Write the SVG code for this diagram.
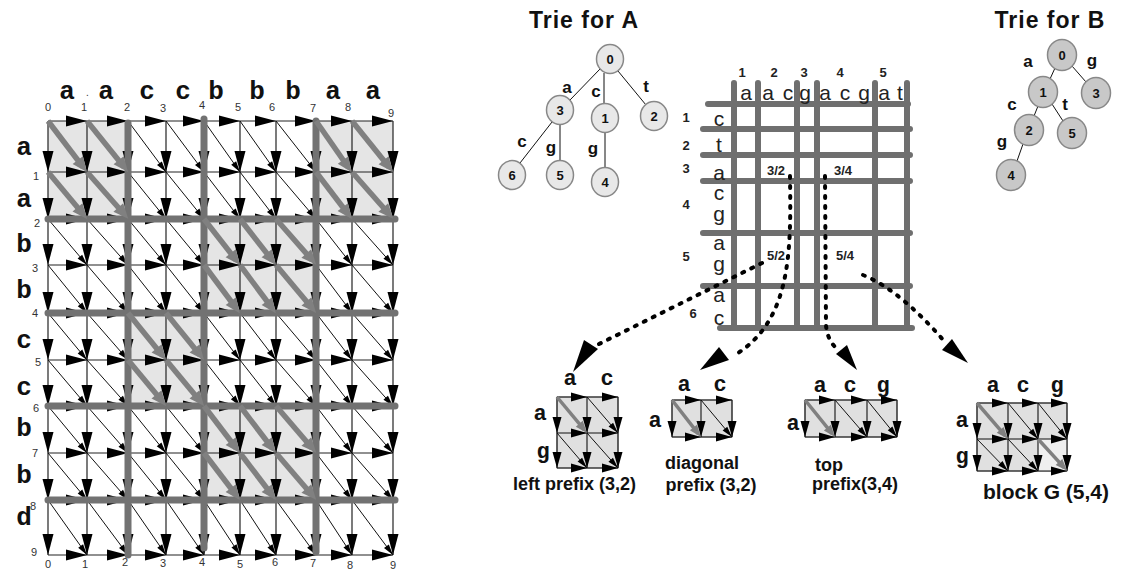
<svg xmlns="http://www.w3.org/2000/svg" width="1125" height="569" viewBox="0 0 1125 569">
<style>
.ln{fill:none;stroke:#222;stroke-width:1.2;marker-mid:url(#ah);marker-end:url(#ah)}
.dg{fill:none;stroke:#111;stroke-width:1;marker-end:url(#ad)}
.gd{fill:none;stroke:#808080;stroke-width:5.5;marker-end:url(#ag)}
.thk{fill:none;stroke:#727272;stroke-width:7;stroke-linecap:round}
.sh{fill:#e5e5e5}
.lt{font-family:"Liberation Mono","DejaVu Sans Mono",monospace;font-weight:bold;font-size:26px;fill:#111;text-anchor:middle}
.sl{font-family:"Liberation Mono","DejaVu Sans Mono",monospace;font-weight:bold;font-size:22px;fill:#111;text-anchor:middle}
.nm{font-family:"Liberation Sans",Arial,sans-serif;font-size:11px;fill:#333;text-anchor:middle}
.mx{fill:none;stroke:#6f6f6f;stroke-width:6;stroke-linecap:round}
.ms{font-family:"Liberation Sans",Arial,sans-serif;font-size:21px;fill:#222;text-anchor:middle}
.mn{font-family:"Liberation Sans",Arial,sans-serif;font-weight:bold;font-size:13px;fill:#222;text-anchor:middle}
.ttl{font-family:"Liberation Sans",Arial,sans-serif;font-weight:bold;font-size:23px;letter-spacing:1px;fill:#111;text-anchor:middle}
.na{fill:#e8e8e8;stroke:#888;stroke-width:1.5}
.nb{fill:#c8c8c8;stroke:#888;stroke-width:1.5}
.nl{font-family:"Liberation Sans",Arial,sans-serif;font-weight:bold;font-size:13px;fill:#111;text-anchor:middle}
.el{font-family:"Liberation Sans",Arial,sans-serif;font-weight:bold;font-size:17px;fill:#111;text-anchor:middle}
.te{fill:none;stroke:#111;stroke-width:1}
.cap{font-family:"Liberation Sans",Arial,sans-serif;font-weight:bold;font-size:18px;fill:#111}
.capg{font-family:"Liberation Sans",Arial,sans-serif;font-weight:bold;font-size:21px;fill:#111}
.cell{fill:#e0e0e0;stroke:#888;stroke-width:1}
.sa{fill:none;stroke:#111;stroke-width:1.1;marker-mid:url(#am);marker-end:url(#am)}
.sd{fill:none;stroke:#111;stroke-width:1;marker-end:url(#ad)}
.sg{fill:none;stroke:#808080;stroke-width:3.5;marker-end:url(#ags)}
.dot{fill:none;stroke:#000;stroke-width:4;stroke-dasharray:2 8;stroke-linecap:round}
</style>
<defs>
<marker id="ah" viewBox="-22 -6 23 12" refX="0" refY="0" markerWidth="23" markerHeight="12" markerUnits="userSpaceOnUse" orient="auto"><path d="M0,0 L-21,-5.5 L-21,5.5 Z" fill="#000"/></marker>
<marker id="am" viewBox="-17 -5 18 10" refX="0" refY="0" markerWidth="18" markerHeight="10" markerUnits="userSpaceOnUse" orient="auto"><path d="M0,0 L-16,-4.5 L-16,4.5 Z" fill="#000"/></marker>
<marker id="ad" viewBox="-12 -4 13 8" refX="0" refY="0" markerWidth="13" markerHeight="8" markerUnits="userSpaceOnUse" orient="auto"><path d="M0,0 L-11,-3 L-11,3 Z" fill="#000"/></marker>
<marker id="ag" viewBox="-10 -7 18 14" refX="0" refY="0" markerWidth="18" markerHeight="14" markerUnits="userSpaceOnUse" orient="auto"><path d="M6.4,0 L-8.6,-6.5 L-8.6,6.5 Z" fill="#808080"/></marker>
<marker id="ags" viewBox="-9 -5 14 10" refX="0" refY="0" markerWidth="14" markerHeight="10" markerUnits="userSpaceOnUse" orient="auto"><path d="M4,0 L-8,-4.5 L-8,4.5 Z" fill="#808080"/></marker>
</defs>
<rect width="1125" height="569" fill="#fff"/>

<!-- Left alignment grid -->
<g id="grid">
<rect class="sh" x="48" y="121" width="80" height="98"/>
<rect class="sh" x="316" y="121" width="77" height="98"/>
<rect class="sh" x="204" y="219" width="112" height="94"/>
<rect class="sh" x="128" y="313" width="76" height="93"/>
<rect class="sh" x="204" y="406" width="112" height="94"/>
<g id="grid-rows">
<path class="ln" d="M48,121 H87 H128 H166 H204 H240 H276 H316 H352 H393"/>
<path class="ln" d="M48,172 H87 H128 H166 H204 H240 H276 H316 H352 H393"/>
<path class="ln" d="M48,219 H87 H128 H166 H204 H240 H276 H316 H352 H393"/>
<path class="ln" d="M48,265 H87 H128 H166 H204 H240 H276 H316 H352 H393"/>
<path class="ln" d="M48,313 H87 H128 H166 H204 H240 H276 H316 H352 H393"/>
<path class="ln" d="M48,360 H87 H128 H166 H204 H240 H276 H316 H352 H393"/>
<path class="ln" d="M48,406 H87 H128 H166 H204 H240 H276 H316 H352 H393"/>
<path class="ln" d="M48,453 H87 H128 H166 H204 H240 H276 H316 H352 H393"/>
<path class="ln" d="M48,500 H87 H128 H166 H204 H240 H276 H316 H352 H393"/>
<path class="ln" d="M48,555 H87 H128 H166 H204 H240 H276 H316 H352 H393"/>
</g>
<g id="grid-cols">
<path class="ln" d="M48,121 V172 V219 V265 V313 V360 V406 V453 V500 V555"/>
<path class="ln" d="M87,121 V172 V219 V265 V313 V360 V406 V453 V500 V555"/>
<path class="ln" d="M128,121 V172 V219 V265 V313 V360 V406 V453 V500 V555"/>
<path class="ln" d="M166,121 V172 V219 V265 V313 V360 V406 V453 V500 V555"/>
<path class="ln" d="M204,121 V172 V219 V265 V313 V360 V406 V453 V500 V555"/>
<path class="ln" d="M240,121 V172 V219 V265 V313 V360 V406 V453 V500 V555"/>
<path class="ln" d="M276,121 V172 V219 V265 V313 V360 V406 V453 V500 V555"/>
<path class="ln" d="M316,121 V172 V219 V265 V313 V360 V406 V453 V500 V555"/>
<path class="ln" d="M352,121 V172 V219 V265 V313 V360 V406 V453 V500 V555"/>
<path class="ln" d="M393,121 V172 V219 V265 V313 V360 V406 V453 V500 V555"/>
</g>
<g id="grid-diagonals">
<path class="dg" d="M128,121 L166,172"/><path class="dg" d="M166,121 L204,172"/><path class="dg" d="M204,121 L240,172"/><path class="dg" d="M240,121 L276,172"/><path class="dg" d="M276,121 L316,172"/>
<path class="dg" d="M128,172 L166,219"/><path class="dg" d="M166,172 L204,219"/><path class="dg" d="M204,172 L240,219"/><path class="dg" d="M240,172 L276,219"/><path class="dg" d="M276,172 L316,219"/>
<path class="dg" d="M48,219 L87,265"/><path class="dg" d="M87,219 L128,265"/><path class="dg" d="M128,219 L166,265"/><path class="dg" d="M166,219 L204,265"/><path class="dg" d="M316,219 L352,265"/><path class="dg" d="M352,219 L393,265"/>
<path class="dg" d="M48,265 L87,313"/><path class="dg" d="M87,265 L128,313"/><path class="dg" d="M128,265 L166,313"/><path class="dg" d="M166,265 L204,313"/><path class="dg" d="M316,265 L352,313"/><path class="dg" d="M352,265 L393,313"/>
<path class="dg" d="M48,313 L87,360"/><path class="dg" d="M87,313 L128,360"/><path class="dg" d="M204,313 L240,360"/><path class="dg" d="M240,313 L276,360"/><path class="dg" d="M276,313 L316,360"/><path class="dg" d="M316,313 L352,360"/><path class="dg" d="M352,313 L393,360"/>
<path class="dg" d="M48,360 L87,406"/><path class="dg" d="M87,360 L128,406"/><path class="dg" d="M204,360 L240,406"/><path class="dg" d="M240,360 L276,406"/><path class="dg" d="M276,360 L316,406"/><path class="dg" d="M316,360 L352,406"/><path class="dg" d="M352,360 L393,406"/>
<path class="dg" d="M48,406 L87,453"/><path class="dg" d="M87,406 L128,453"/><path class="dg" d="M128,406 L166,453"/><path class="dg" d="M166,406 L204,453"/><path class="dg" d="M316,406 L352,453"/><path class="dg" d="M352,406 L393,453"/>
<path class="dg" d="M48,453 L87,500"/><path class="dg" d="M87,453 L128,500"/><path class="dg" d="M128,453 L166,500"/><path class="dg" d="M166,453 L204,500"/><path class="dg" d="M316,453 L352,500"/><path class="dg" d="M352,453 L393,500"/>
<path class="dg" d="M48,500 L87,555"/><path class="dg" d="M87,500 L128,555"/><path class="dg" d="M128,500 L166,555"/><path class="dg" d="M166,500 L204,555"/><path class="dg" d="M204,500 L240,555"/><path class="dg" d="M240,500 L276,555"/><path class="dg" d="M276,500 L316,555"/><path class="dg" d="M316,500 L352,555"/><path class="dg" d="M352,500 L393,555"/>
</g>
<g id="grid-thick">
<path class="thk" d="M48,219 H395"/>
<path class="thk" d="M48,313 H395"/>
<path class="thk" d="M48,406 H395"/>
<path class="thk" d="M48,500 H395"/>
<path class="thk" d="M128,123 V555"/>
<path class="thk" d="M204,119 V548"/>
<path class="thk" d="M316,121 V552"/>
</g>
<g id="grid-matches">
<path class="gd" d="M48,121 L83,167"/><path class="gd" d="M87,121 L124,167"/><path class="gd" d="M316,121 L348,167"/><path class="gd" d="M352,121 L389,167"/>
<path class="gd" d="M48,172 L83,214"/><path class="gd" d="M87,172 L124,214"/><path class="gd" d="M316,172 L348,214"/><path class="gd" d="M352,172 L389,214"/>
<path class="gd" d="M204,219 L236,260"/><path class="gd" d="M240,219 L272,260"/><path class="gd" d="M276,219 L312,260"/>
<path class="gd" d="M204,265 L236,308"/><path class="gd" d="M240,265 L272,308"/><path class="gd" d="M276,265 L312,308"/>
<path class="gd" d="M128,313 L162,355"/><path class="gd" d="M166,313 L200,355"/>
<path class="gd" d="M128,360 L162,401"/><path class="gd" d="M166,360 L200,401"/>
<path class="gd" d="M204,406 L236,448"/><path class="gd" d="M240,406 L272,448"/><path class="gd" d="M276,406 L312,448"/>
<path class="gd" d="M204,453 L236,495"/><path class="gd" d="M240,453 L272,495"/><path class="gd" d="M276,453 L312,495"/>
</g>
<g id="grid-labels">
<text class="lt" x="67" y="99">a</text><text x="86" y="96" font-family="Liberation Sans, sans-serif" font-size="10" fill="#333">.</text>
<text class="lt" x="106" y="99">a</text><text class="lt" x="147" y="99">c</text><text class="lt" x="183" y="99">c</text>
<text class="lt" x="216" y="99">b</text><text class="lt" x="257" y="99">b</text><text class="lt" x="293" y="99">b</text>
<text class="lt" x="333" y="99">a</text><text class="lt" x="373" y="99">a</text>
<text class="lt" x="24" y="155">a</text><text class="lt" x="24" y="207">a</text>
<text class="lt" x="24" y="252">b</text><text class="lt" x="24" y="298">b</text>
<text class="lt" x="24" y="348">c</text><text class="lt" x="24" y="395">c</text>
<text class="lt" x="24" y="436">b</text><text class="lt" x="24" y="483">b</text>
<text class="lt" x="24" y="525">d</text>
<text class="nm" x="48" y="111">0</text><text class="nm" x="84" y="111">1</text><text class="nm" x="127" y="111">2</text><text class="nm" x="163" y="112">3</text><text class="nm" x="202" y="109">4</text><text class="nm" x="238" y="111">5</text><text class="nm" x="272" y="111">6</text><text class="nm" x="313" y="112">7</text><text class="nm" x="348" y="111">8</text><text class="nm" x="391" y="117">9</text>
<text class="nm" x="36" y="180">1</text><text class="nm" x="37" y="227">2</text><text class="nm" x="35" y="272">3</text><text class="nm" x="35" y="317">4</text><text class="nm" x="38" y="366">5</text><text class="nm" x="36" y="412">6</text><text class="nm" x="35" y="457">7</text><text class="nm" x="33" y="510">8</text><text class="nm" x="34" y="556">9</text>
<text class="nm" x="48" y="568">0</text><text class="nm" x="85" y="568">1</text><text class="nm" x="125" y="566">2</text><text class="nm" x="163" y="567">3</text><text class="nm" x="202" y="566">4</text><text class="nm" x="240" y="568">5</text><text class="nm" x="275" y="566">6</text><text class="nm" x="313" y="567">7</text><text class="nm" x="350" y="569">8</text><text class="nm" x="393" y="569">9</text>
</g>
</g>

<!-- Trie for A -->
<g id="trieA">
<text class="ttl" x="584" y="28">Trie for A</text>
<g id="trieA-edges">
<path class="te" d="M600,69 L570,100"/>
<path class="te" d="M604,73 L604,104"/>
<path class="te" d="M618,71 L646,105"/>
<path class="te" d="M552,122 L520,163"/>
<path class="te" d="M560,124 L560,161"/>
<path class="te" d="M605,132 L605,168"/>
</g>
<text class="el" x="567" y="93">a</text>
<text class="el" x="596" y="97">c</text>
<text class="el" x="646" y="92">t</text>
<text class="el" x="522" y="147">c</text>
<text class="el" x="551" y="153">g</text>
<text class="el" x="593" y="154">g</text>
<g id="A0"><ellipse class="na" cx="610" cy="59" rx="13.5" ry="14.5"/><text class="nl" x="610" y="64">0</text></g>
<g id="A3"><ellipse class="na" cx="560" cy="110" rx="13.5" ry="14.5"/><text class="nl" x="560" y="115">3</text></g>
<g id="A1"><ellipse class="na" cx="605" cy="118" rx="13.5" ry="14.5"/><text class="nl" x="605" y="123">1</text></g>
<g id="A2"><ellipse class="na" cx="654" cy="116" rx="13.5" ry="14.5"/><text class="nl" x="654" y="121">2</text></g>
<g id="A6"><ellipse class="na" cx="512" cy="175" rx="13.5" ry="14.5"/><text class="nl" x="512" y="180">6</text></g>
<g id="A5"><ellipse class="na" cx="560" cy="175" rx="13.5" ry="14.5"/><text class="nl" x="560" y="180">5</text></g>
<g id="A4"><ellipse class="na" cx="605" cy="182" rx="13.5" ry="14.5"/><text class="nl" x="605" y="187">4</text></g>
</g>

<!-- Trie for B -->
<g id="trieB">
<text class="ttl" x="1050" y="28">Trie for B</text>
<g id="trieB-edges">
<path class="te" d="M1055,68 L1050,79"/>
<path class="te" d="M1072,66 L1086,82"/>
<path class="te" d="M1038,106 L1034,116"/>
<path class="te" d="M1052,104 L1063,121"/>
<path class="te" d="M1023,144 L1017,161"/>
</g>
<text class="el" x="1028" y="67">a</text>
<text class="el" x="1092" y="66">g</text>
<text class="el" x="1012" y="110">c</text>
<text class="el" x="1065" y="110">t</text>
<text class="el" x="1002" y="147">g</text>
<g id="B0"><ellipse class="nb" cx="1062" cy="55" rx="14.5" ry="15.5"/><text class="nl" x="1062" y="60">0</text></g>
<g id="B1"><ellipse class="nb" cx="1043" cy="92" rx="14.5" ry="15.5"/><text class="nl" x="1043" y="97">1</text></g>
<g id="B3"><ellipse class="nb" cx="1096" cy="93" rx="14.5" ry="15.5"/><text class="nl" x="1096" y="98">3</text></g>
<g id="B2"><ellipse class="nb" cx="1029" cy="130" rx="14.5" ry="15.5"/><text class="nl" x="1029" y="135">2</text></g>
<g id="B5"><ellipse class="nb" cx="1072" cy="133" rx="14.5" ry="15.5"/><text class="nl" x="1072" y="138">5</text></g>
<g id="B4"><ellipse class="nb" cx="1011" cy="175" rx="14.5" ry="15.5"/><text class="nl" x="1011" y="180">4</text></g>
</g>

<!-- Block matrix -->
<g id="matrix">
<path class="mx" d="M734,83 V328 M758,83 V328 M797,83 V328 M817,83 V328 M875,83 V328 M907,83 V328"/>
<path class="mx" d="M708,104 H908 M703,129 H910 M703,155 H910 M703,181 H910 M703,233 H910 M703,286 H910 M720,328 H912"/>
<text class="mn" x="742" y="77">1</text><text class="mn" x="774" y="77">2</text><text class="mn" x="804" y="77">3</text><text class="mn" x="840" y="77">4</text><text class="mn" x="883" y="77">5</text>
<text class="ms" x="746" y="100">a</text><text class="ms" x="768" y="100">a</text><text class="ms" x="788" y="100">c</text><text class="ms" x="805" y="100">g</text><text class="ms" x="825" y="100">a</text><text class="ms" x="845" y="100">c</text><text class="ms" x="864" y="100">g</text><text class="ms" x="884" y="100">a</text><text class="ms" x="900" y="100">t</text>
<text class="ms" x="719" y="126">c</text><text class="ms" x="719" y="152">t</text><text class="ms" x="719" y="180">a</text><text class="ms" x="719" y="200">c</text><text class="ms" x="719" y="221">g</text><text class="ms" x="719" y="250">a</text><text class="ms" x="719" y="271">g</text><text class="ms" x="719" y="302">a</text><text class="ms" x="719" y="325">c</text>
<text class="mn" x="686" y="122">1</text><text class="mn" x="686" y="150">2</text><text class="mn" x="686" y="173">3</text><text class="mn" x="686" y="209">4</text><text class="mn" x="686" y="261">5</text><text class="mn" x="693" y="318">6</text>
<text class="mn" x="776" y="175">3/2</text><text class="mn" x="843" y="175">3/4</text><text class="mn" x="776" y="260">5/2</text><text class="mn" x="845" y="260">5/4</text>
</g>

<!-- Connectors -->
<g id="connectors">
<path class="dot" d="M762,263 L595,346"/>
<polygon points="573,372 584,340 598,349" fill="#000"/>
<path class="dot" d="M790,176 C791,250 792,320 735,355"/>
<polygon points="700,370 719,347 729,360" fill="#000"/>
<path class="dot" d="M825,176 L826,325 Q827,340 838,350"/>
<polygon points="857,370 836,354 847,345" fill="#000"/>
<path class="dot" d="M863,275 Q900,290 945,342"/>
<polygon points="968,363 942,350 952,339" fill="#000"/>
</g>

<!-- left prefix (3,2) -->
<g id="leftPrefix">
<rect class="cell" x="557" y="397" width="61" height="71"/>
<path class="sa" d="M557,397 H587 H618"/><path class="sa" d="M557,433 H587 H618"/><path class="sa" d="M557,468 H587 H618"/>
<path class="sa" d="M557,397 V433 V468"/><path class="sa" d="M587,397 V433 V468"/><path class="sa" d="M618,397 V433 V468"/>
<path class="sd" d="M587,397 L618,433"/><path class="sd" d="M557,433 L587,468"/><path class="sd" d="M587,433 L618,468"/>
<path class="sg" d="M557,397 L584.4,429.9"/>
<text class="sl" x="570" y="385">a</text><text class="sl" x="607" y="385">c</text>
<text class="sl" x="540" y="420">a</text><text class="sl" x="543" y="458">g</text>
<text class="cap" x="513" y="490">left prefix (3,2)</text>
</g>

<!-- diagonal prefix (3,2) -->
<g id="diagPrefix">
<rect class="cell" x="672" y="400" width="60" height="37"/>
<path class="sa" d="M672,400 H701 H732"/><path class="sa" d="M672,437 H701 H732"/>
<path class="sa" d="M672,400 V437"/><path class="sa" d="M701,400 V437"/><path class="sa" d="M732,400 V437"/>
<path class="sd" d="M701,400 L732,437"/>
<path class="sg" d="M672,400 L698.4,433.9"/>
<text class="sl" x="684" y="391">a</text><text class="sl" x="720" y="391">c</text>
<text class="sl" x="655" y="427">a</text>
<text class="cap" x="702" y="469" text-anchor="middle">diagonal</text>
<text class="cap" x="711" y="491" text-anchor="middle">prefix (3,2)</text>
</g>

<!-- top prefix (3,4) -->
<g id="topPrefix">
<rect class="cell" x="805" y="400" width="92" height="37"/>
<path class="sa" d="M805,400 H835 H867 H897"/><path class="sa" d="M805,437 H835 H867 H897"/>
<path class="sa" d="M805,400 V437"/><path class="sa" d="M835,400 V437"/><path class="sa" d="M867,400 V437"/><path class="sa" d="M897,400 V437"/>
<path class="sd" d="M835,400 L867,437"/><path class="sd" d="M867,400 L897,437"/>
<path class="sg" d="M805,400 L832.4,433.9"/>
<text class="sl" x="820" y="392">a</text><text class="sl" x="850" y="392">c</text><text class="sl" x="883" y="392">g</text>
<text class="sl" x="793" y="430">a</text>
<text class="cap" x="815" y="471">top</text>
<text class="cap" x="812" y="490">prefix(3,4)</text>
</g>

<!-- block G (5,4) -->
<g id="blockG">
<rect class="cell" x="977" y="403" width="90" height="68"/>
<rect x="1038" y="439" width="29" height="32" fill="#efefef"/>
<path class="sa" d="M977,403 H1008 H1038 H1067"/><path class="sa" d="M977,439 H1008 H1038 H1067"/><path class="sa" d="M977,471 H1008 H1038 H1067"/>
<path class="sa" d="M977,403 V439 V471"/><path class="sa" d="M1008,403 V439 V471"/><path class="sa" d="M1038,403 V439 V471"/><path class="sa" d="M1067,403 V439 V471"/>
<path class="sd" d="M1008,403 L1038,439"/><path class="sd" d="M1038,403 L1067,439"/><path class="sd" d="M977,439 L1008,471"/><path class="sd" d="M1008,439 L1038,471"/>
<path class="sg" d="M977,403 L1005.4,435.9"/><path class="sg" d="M1038,439 L1064.4,467.9"/>
<text class="sl" x="993" y="392">a</text><text class="sl" x="1023" y="392">c</text><text class="sl" x="1057" y="392">g</text>
<text class="sl" x="962" y="427">a</text><text class="sl" x="962" y="463">g</text>
<text class="capg" x="983" y="499">block G (5,4)</text>
</g>
</svg>
